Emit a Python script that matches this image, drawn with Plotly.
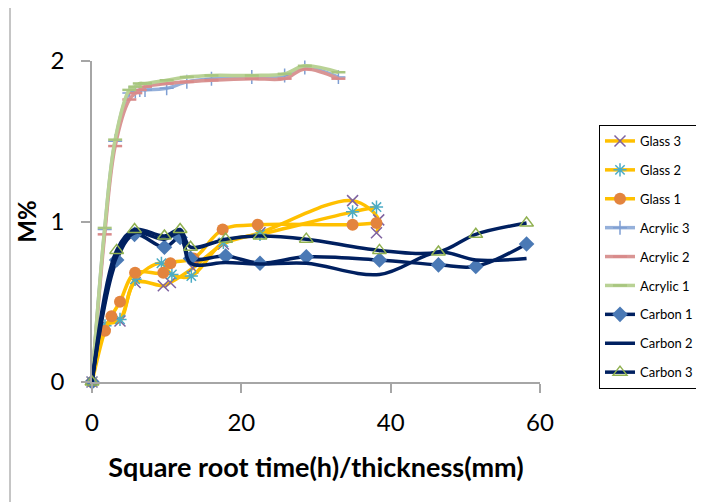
import plotly.graph_objects as go

# ---------------- data ----------------
glass3_x = [0, 1.74, 3.75, 5.77, 9.55, 10.5, 13.5, 17.6, 22.5, 34.9, 38.4, 38.1]
glass3_y = [0, 0.36, 0.38, 0.62, 0.60, 0.62, 0.71, 0.86, 0.93, 1.13, 1.01, 0.93]

glass2_x = [0, 1.74, 3.75, 5.77, 9.3, 10.7, 13.3, 17.6, 22.5, 34.9, 38.1]
glass2_y = [0, 0.35, 0.39, 0.64, 0.74, 0.67, 0.66, 0.87, 0.92, 1.06, 1.09]

glass1_x = [0, 1.74, 2.6, 3.75, 5.77, 9.55, 10.5, 13.6, 17.5, 22.2, 34.9, 38.1]
glass1_y = [0, 0.32, 0.41, 0.50, 0.68, 0.68, 0.74, 0.77, 0.95, 0.98, 0.98, 0.99]

acrylic_x = [0, 1.7, 3.1, 5.0, 5.8, 6.4, 7.1, 10.0, 12.7, 16.0, 21.4, 25.8, 28.5, 33.0]
acrylic3_y = [0, 0.95, 1.50, 1.80, 1.81, 1.82, 1.82, 1.83, 1.87, 1.89, 1.90, 1.91, 1.96, 1.90]
acrylic2_y = [0, 0.92, 1.47, 1.76, 1.80, 1.82, 1.84, 1.86, 1.87, 1.88, 1.89, 1.89, 1.95, 1.89]
acrylic1_y = [0, 0.96, 1.51, 1.82, 1.84, 1.86, 1.86, 1.88, 1.90, 1.91, 1.91, 1.92, 1.97, 1.93]

carbon_x = [0, 3.3, 5.7, 9.7, 11.8, 13.2, 17.9, 22.5, 28.7, 38.5, 46.4, 51.4, 58.2]
carbon1_y = [0, 0.76, 0.92, 0.84, 0.90, 0.77, 0.785, 0.74, 0.78, 0.76, 0.73, 0.72, 0.86]
carbon2_y = [0, 0.78, 0.93, 0.89, 0.93, 0.74, 0.745, 0.735, 0.74, 0.67, 0.81, 0.76, 0.77]
carbon3_y = [0, 0.82, 0.95, 0.91, 0.95, 0.84, 0.89, 0.91, 0.89, 0.82, 0.81, 0.92, 0.99]

x_ticks = [0, 20, 40, 60]
y_ticks = [0, 1, 2]

GOLD = "#FFC000"
NAVY = "#002060"

series = [
    dict(name="Glass 3", x=glass3_x, y=glass3_y, color=GOLD, w=3.5,
         marker=dict(symbol="x-thin-open", size=11, line=dict(color="#7F63A1", width=1.5), color="#7F63A1")),
    dict(name="Glass 2", x=glass2_x, y=glass2_y, color=GOLD, w=3.5,
         marker=dict(symbol="asterisk-open", size=11, line=dict(color="#4BACC6", width=1.5), color="#4BACC6")),
    dict(name="Glass 1", x=glass1_x, y=glass1_y, color=GOLD, w=3.5,
         marker=dict(symbol="circle", size=12, color="#E3843E", line=dict(width=0))),
    dict(name="Acrylic 3", x=acrylic_x, y=acrylic3_y, color="#95B0DA", w=3.5,
         marker=dict(symbol="cross-thin-open", size=10, line=dict(color="#7F9FD3", width=1.5), color="#7F9FD3")),
    dict(name="Acrylic 2", x=acrylic_x, y=acrylic2_y, color="#D99594", w=3.5,
         marker=dict(symbol="line-ew-open", size=10, line=dict(color="#D98A8A", width=2.5), color="#D98A8A")),
    dict(name="Acrylic 1", x=acrylic_x, y=acrylic1_y, color="#B9D295", w=3.5,
         marker=dict(symbol="line-ew-open", size=10, line=dict(color="#A8C67F", width=2.5), color="#A8C67F")),
    dict(name="Carbon 1", x=carbon_x, y=carbon1_y, color=NAVY, w=3.5,
         marker=dict(symbol="diamond", size=12, color="#4A79B5", line=dict(width=0))),
    dict(name="Carbon 2", x=carbon_x, y=carbon2_y, color=NAVY, w=3.5, marker=None),
    dict(name="Carbon 3", x=carbon_x, y=carbon3_y, color=NAVY, w=3.5,
         marker=dict(symbol="triangle-up-open", size=12, color="#8FB04F", line=dict(color="#8FB04F", width=1.5))),
]

fig = go.Figure()
for i, s in enumerate(series):
    kw = dict(mode="lines+markers", marker=s["marker"]) if s["marker"] else dict(mode="lines")
    fig.add_trace(go.Scatter(
        x=s["x"], y=s["y"], name=s["name"],
        line=dict(color=s["color"], width=s["w"], shape="spline", smoothing=1.0),
        legendgroup=s["name"], cliponaxis=False, **kw))

font_family = "Lato, 'Open Sans', sans-serif"

# the page body adds an 8px offset, so the figure is 8px smaller than the window
fig.update_layout(
    width=696, height=494,
    margin=dict(l=84, r=164, t=53, b=120, autoexpand=False),
    paper_bgcolor="white", plot_bgcolor="white",
    font=dict(family=font_family, color="black"),
    showlegend=True,
    legend=dict(
        x=(599 - 92) / 448, y=(382 - 125) / 321, xanchor="left", yanchor="top",
        bordercolor="#000000", borderwidth=1, bgcolor="white",
        font=dict(size=13, family=font_family),
        traceorder="grouped", tracegroupgap=9,
    ),
    xaxis=dict(
        range=[0, 60], tickvals=x_ticks, ticktext=[str(v) for v in x_ticks],
        showgrid=False, zeroline=False, showline=True, linecolor="#A6A6A6", linewidth=1.5,
        ticks="outside", ticklen=9, tickcolor="#A6A6A6", tickwidth=1.5,
        tickfont=dict(size=24), ticklabelstandoff=9, automargin=False,
        title=dict(text="<b>Square root time(h)/thickness(mm)</b>", font=dict(size=27), standoff=24),
    ),
    yaxis=dict(
        range=[0, 2], tickvals=y_ticks, ticktext=[str(v) for v in y_ticks],
        showgrid=False, zeroline=False, showline=True, linecolor="#A6A6A6", linewidth=1.5,
        ticks="outside", ticklen=9, tickcolor="#A6A6A6", tickwidth=1.5,
        tickfont=dict(size=24), ticklabelstandoff=12, automargin=False,
        title=dict(text="<b>M%</b>", font=dict(size=24), standoff=7),
    ),
)

# outer chart-area border (left edge visible in the reference)
fig.add_shape(type="line", xref="paper", yref="paper",
              x0=(10 - 92) / 448, x1=(10 - 92) / 448, y0=-1, y1=2,
              line=dict(color="#8C8C8C", width=1))

fig.write_html("out.html")
